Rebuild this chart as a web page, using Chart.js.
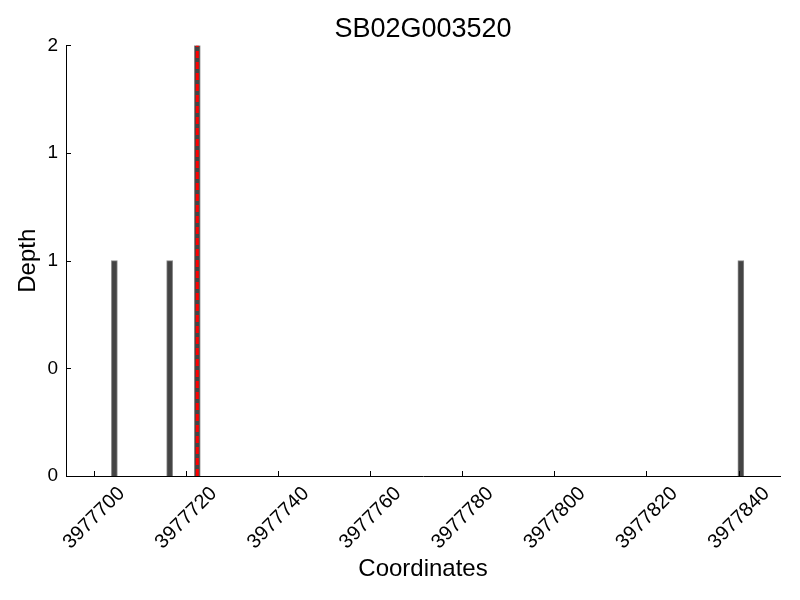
<!DOCTYPE html>
<html>
<head>
<meta charset="utf-8">
<script src="https://cdn.jsdelivr.net/npm/chart.js@4"></script>
<style>
  html, body { margin: 0; padding: 0; background: #fff; }
  #wrap { width: 800px; height: 600px; }
</style>
</head>
<body>
<div id="wrap"><canvas id="depthChart"></canvas></div>
<script>
// données
const binStarts = [3977704, 3977716, 3977722, 3977840];
const depthValues = [1, 1, 2, 1];
const binWidth = 1;
const markerPos = 3977722.5;
const xTicks = [3977700, 3977720, 3977740, 3977760, 3977780, 3977800, 3977820, 3977840];
const yTicks = [0, 0.5, 1, 1.5, 2];
const yTickLabels = ['0', '0', '1', '1', '2'];
const xRange = [3977694, 3977849];

const FONT = '"Liberation Sans", Arial, sans-serif';

// petites graduations vers l'intérieur, comme sur l'original
const innerTicks = {
    id: 'innerTicks',
    afterDatasetsDraw(chart) {
        const ctx = chart.ctx;
        const x = chart.scales.x, y = chart.scales.y;
        const area = chart.chartArea;
        ctx.save();
        ctx.strokeStyle = '#000';
        ctx.lineWidth = 1;
        ctx.beginPath();
        xTicks.forEach(v => {
            const px = Math.round(x.getPixelForValue(v)) + 0.5;
            ctx.moveTo(px, area.bottom);
            ctx.lineTo(px, area.bottom - 5);
        });
        yTicks.forEach(v => {
            const py = Math.round(y.getPixelForValue(v)) + 0.5;
            ctx.moveTo(area.left, py);
            ctx.lineTo(area.left + 5, py);
        });
        ctx.stroke();
        ctx.restore();
    }
};

const barData = binStarts.map((s, i) => ({ x: s + binWidth / 2, y: depthValues[i] }));

new Chart(document.getElementById('depthChart'), {
    type: 'bar',
    data: {
        datasets: [{
            type: 'line',
            data: [{ x: markerPos, y: 0 }, { x: markerPos, y: 2 }],
            borderColor: '#ff0000',
            borderWidth: 3,
            borderDash: [7, 4],
            pointRadius: 0,
            fill: false,
            order: 0
        }, {
            data: barData,
            backgroundColor: '#444444',
            borderColor: '#888888',
            borderWidth: 1,
            barThickness: 6,
            order: 1
        }]
    },
    options: {
        responsive: true,
        maintainAspectRatio: false,
        animation: false,
        layout: { padding: { left: 0, right: 20, top: 0, bottom: 0 } },
        plugins: {
            legend: { display: false },
            tooltip: { enabled: false },
            title: {
                display: true,
                fullSize: false,
                text: 'SB02G003520',
                color: '#000',
                font: { family: FONT, size: 27, weight: 'normal' },
                padding: { top: 13, bottom: 0 }
            }
        },
        scales: {
            x: {
                type: 'linear',
                offset: false,
                min: xRange[0],
                max: xRange[1],
                afterBuildTicks: s => { s.ticks = xTicks.map(v => ({ value: v })); },
                afterFit: s => { s.height = 124; },
                grid: { display: false, drawTicks: false },
                border: { display: true, color: '#000', width: 1 },
                ticks: {
                    color: '#000',
                    font: { family: FONT, size: 20 },
                    minRotation: 45,
                    maxRotation: 45,
                    padding: 6,
                    labelOffset: 28,
                    callback: v => String(v)
                },
                title: {
                    display: true,
                    text: 'Coordinates',
                    color: '#000',
                    font: { family: FONT, size: 24 },
                    padding: { top: 0, bottom: 16 }
                }
            },
            y: {
                min: 0,
                max: 2,
                afterBuildTicks: s => { s.ticks = yTicks.map(v => ({ value: v })); },
                afterFit: s => { s.width = 66; },
                grid: { display: false, drawTicks: false },
                border: { display: true, color: '#000', width: 1 },
                ticks: {
                    color: '#000',
                    font: { family: FONT, size: 19 },
                    padding: 8,
                    callback: (v, i) => yTickLabels[i]
                },
                title: {
                    display: true,
                    text: 'Depth',
                    color: '#000',
                    font: { family: FONT, size: 24 },
                    padding: { top: 14, bottom: 0 }
                }
            }
        }
    },
    plugins: [innerTicks]
});
</script>
</body>
</html>
